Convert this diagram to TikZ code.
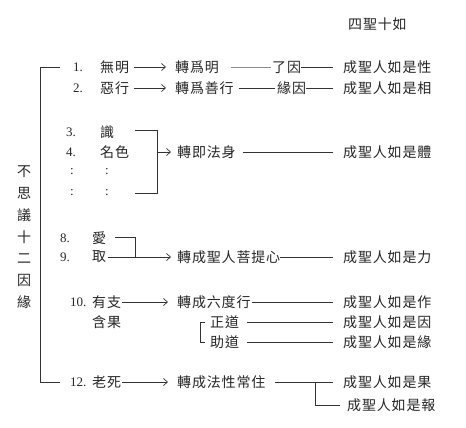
\documentclass[tikz,border=0pt]{standalone}
\usepackage{fontspec}
\setmainfont{Noto Sans CJK TC}[LetterSpace=6]
\newfontfamily\numf{Liberation Serif}
\usetikzlibrary{arrows.meta}
\begin{document}
\begin{tikzpicture}[x=1pt,y=-1pt,
  txt/.style={anchor=west,inner sep=0pt,font=\fontsize{14}{14}\selectfont,text=black!85},
  numt/.style={anchor=west,inner sep=0pt,font=\numf\fontsize{13}{13}\selectfont,text=black!85},
  vt/.style={inner sep=0pt,font=\fontsize{14}{14}\selectfont,text=black!85},
  ln/.style={draw=black!80,line width=0.7pt},
  arr/.style={ln,-{Straight Barb[length=4pt,width=7pt]}}]
\useasboundingbox (0,0) rectangle (466,428);
% title
\node[txt] (title) at (348,24) {四聖十如};
% vertical label
\foreach \c [count=\i] in {不,思,議,十,二,因,緣}
  \node[vt] (v\i) at (24,{172+21.7*(\i-1)}) {\c};
% numbers
\node[numt] (n1) at (73,67) {1.};
\node[numt] (n2) at (73,88) {2.};
\node[numt] (n3) at (66,132) {3.};
\node[numt] (n4) at (66,152) {4.};
\node[numt] (c1) at (70,172) {:};
\node[numt] (c2) at (70,193) {:};
\node[numt] (c3) at (105,172) {:};
\node[numt] (c4) at (105,193) {:};
\node[numt] (n8) at (60,238) {8.};
\node[numt] (n9) at (60,257) {9.};
\node[numt] (n10) at (70,302) {10.};
\node[numt] (n12) at (70,382) {12.};
% left items
\node[txt] (wuming) at (100,67) {無明};
\node[txt] (exing) at (100,88) {惡行};
\node[txt] (shi) at (100,132) {識};
\node[txt] (mingse) at (100,152) {名色};
\node[txt] (ai) at (92,238) {愛};
\node[txt] (qu) at (92,257) {取};
\node[txt] (youzhi) at (92,302) {有支};
\node[txt] (hanguo) at (92,322) {含果};
\node[txt] (laosi) at (92,382) {老死};
% middle
\node[txt] (m1) at (175,67) {轉爲明};
\node[txt] (m2) at (175,88) {轉爲善行};
\node[txt] (m3) at (177,152) {轉即法身};
\node[txt] (m4) at (177,257) {轉成聖人菩提心};
\node[txt] (m5) at (177,302) {轉成六度行};
\node[txt] (zd) at (210,322) {正道};
\node[txt] (zhd) at (210,342) {助道};
\node[txt] (m6) at (177,382) {轉成法性常住};
\node[txt] (liaoyin) at (272,67) {了因};
\node[txt] (yuanyin) at (277,88) {緣因};
% right
\node[txt] (r1) at (343,67) {成聖人如是性};
\node[txt] (r2) at (343,88) {成聖人如是相};
\node[txt] (r3) at (343,152) {成聖人如是體};
\node[txt] (r4) at (343,257) {成聖人如是力};
\node[txt] (r5) at (343,302) {成聖人如是作};
\node[txt] (r6) at (343,322) {成聖人如是因};
\node[txt] (r7) at (343,342) {成聖人如是緣};
\node[txt] (r8) at (343,382) {成聖人如是果};
\node[txt] (r9) at (347,405) {成聖人如是報};
% big left bracket
\coordinate (L1) at (60,67);
\coordinate (L2) at (40,67);
\coordinate (L3) at (40,382);
\coordinate (L4) at (60,382);
\draw[ln] (L1) -- (L2) -- (L3) -- (L4);
% rows 1,2
\draw[arr,shorten <=5pt,shorten >=9pt] (wuming.east) -- (m1.west);
\draw[draw=black!45,line width=0.6pt,shorten <=12pt,shorten >=1pt] (m1.east) -- (liaoyin.west);
\draw[ln,shorten >=10pt] (liaoyin.east) -- (r1.west);
\draw[arr,shorten <=5pt,shorten >=9pt] (exing.east) -- (m2.west);
\draw[ln,shorten <=5pt,shorten >=2pt] (m2.east) -- (yuanyin.west);
\draw[ln,shorten >=10pt] (yuanyin.east) -- (r2.west);
% rows 3-7 bracket
\coordinate (b1) at (135,130);
\coordinate (b2) at (157,130);
\coordinate (b3) at (157,193);
\coordinate (b4) at (135,193);
\coordinate (bm) at (157,152);
\draw[ln] (b1) -- (b2) -- (b3) -- (b4);
\draw[arr,shorten >=6pt] (bm) -- (m3.west);
\draw[ln,shorten <=7pt,shorten >=10pt] (m3.east) -- (r3.west);
% rows 8,9
\coordinate (a1) at (115,237);
\coordinate (a2) at (135,237);
\coordinate (a3) at (135,257);
\draw[ln] (a1) -- (a2) -- (a3);
\draw[arr,shorten <=2pt,shorten >=6pt] (qu.east) -- (m4.west);
\draw[ln,shorten >=10pt] (m4.east) -- (r4.west);
% row 10
\draw[arr,shorten <=1pt,shorten >=9pt] (youzhi.east) -- (m5.west);
\draw[ln,shorten <=1pt,shorten >=10pt] (m5.east) -- (r5.west);
\coordinate (z1) at (200,322);
\coordinate (z2) at (200,342);
\draw[ln,shorten <=5pt] (zd.west) -- (z1) -- (z2) -- ([xshift=-5pt]zhd.west);
\draw[ln,shorten <=8pt,shorten >=10pt] (zd.east) -- (r6.west);
\draw[ln,shorten <=8pt,shorten >=10pt] (zhd.east) -- (r7.west);
% row 12
\draw[arr,shorten <=1pt,shorten >=9pt] (laosi.east) -- (m6.west);
\draw[ln,shorten <=9pt,shorten >=10pt] (m6.east) -- (r8.west);
\coordinate (k1) at (315,382);
\coordinate (k2) at (315,405);
\draw[ln,shorten >=7pt] (k1) -- (k2) -- (r9.west);
\end{tikzpicture}
\end{document}
